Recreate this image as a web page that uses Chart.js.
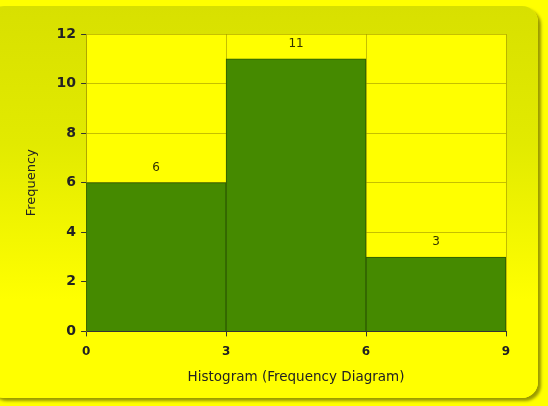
<!DOCTYPE html>
<html><head><meta charset="utf-8">
<script src="https://cdn.jsdelivr.net/npm/chart.js@4"></script>
<style>
html,body{margin:0;padding:0;background:#FFFF00;width:548px;height:406px;overflow:hidden;}
#panel{position:absolute;left:-12px;top:6px;width:550px;height:392px;border-radius:16px;
background:linear-gradient(to bottom,#D8E000 0%,#E2EA00 35%,#FFFF00 75%,#FFFF00 100%);
box-shadow:3px 3px 3px rgba(120,120,0,0.75);}
#wrap{position:absolute;left:0;top:0;width:548px;height:406px;}
</style></head>
<body>
<div id="panel"></div>
<div id="wrap"><canvas id="c" width="548" height="406"></canvas></div>
<script>
const binStarts = [0, 3, 6];
const binWidth = 3;
const frequencies = [6, 11, 3];
const xTicks = [0, 3, 6, 9];
const yTicks = [0, 2, 4, 6, 8, 10, 12];
const xTitle = 'Histogram (Frequency Diagram)';
const yTitle = 'Frequency';

const points = binStarts.map((s, i) => ({x: s + binWidth / 2, y: frequencies[i]}));
const FF = '"DejaVu Sans", sans-serif';

const plotBg = {
  id: 'plotBg',
  beforeDraw(chart) {
    const {ctx, chartArea: a} = chart;
    ctx.save();
    ctx.fillStyle = '#FFFF00';
    ctx.fillRect(a.left, a.top, a.right - a.left, a.bottom - a.top);
    ctx.restore();
  }
};
const labels = {
  id: 'labels',
  afterDatasetsDraw(chart) {
    const {ctx} = chart;
    const meta = chart.getDatasetMeta(0);
    ctx.save();
    ctx.font = '12px ' + FF;
    ctx.fillStyle = '#333300';
    ctx.textAlign = 'center';
    ctx.textBaseline = 'bottom';
    meta.data.forEach((el, i) => {
      ctx.fillText(String(frequencies[i]), el.x, el.y - 9);
    });
    ctx.restore();
  }
};

new Chart(document.getElementById('c'), {
  type: 'bar',
  data: {
    datasets: [{
      data: points,
      backgroundColor: '#458A00',
      borderColor: '#2E5A00',
      borderWidth: 1,
      barPercentage: 1,
      categoryPercentage: 1
    }]
  },
  options: {
    responsive: false,
    animation: false,
    layout: {padding: {left: 20, right: 42, top: 34, bottom: 16}},
    plugins: {legend: {display: false}, tooltip: {enabled: false}},
    scales: {
      x: {
        type: 'linear', min: 0, max: 9, offset: false,
        afterBuildTicks(s) { s.ticks = xTicks.map(v => ({value: v})); },
        grid: {color: 'rgba(160,150,0,0.6)', tickColor: '#333', tickLength: 5, offset: false},
        border: {color: '#333', width: 1},
        ticks: {color: '#222', font: {family: FF, size: 12, weight: 'bold'}, padding: 8, maxRotation: 0},
        title: {display: true, text: xTitle, color: '#222', font: {family: FF, size: 13.5}, padding: {top: 3, bottom: 4}}
      },
      y: {
        min: 0, max: 12,
        afterBuildTicks(s) { s.ticks = yTicks.map(v => ({value: v})); },
        grid: {color: 'rgba(160,150,0,0.6)', tickColor: '#333', tickLength: 5},
        border: {color: 'rgba(160,150,0,0.6)', width: 1},
        ticks: {color: '#222', font: {family: FF, size: 14, weight: 'bold'}, padding: 5},
        title: {display: true, text: yTitle, color: '#222', font: {family: FF, size: 13}, padding: {bottom: 12}}
      }
    }
  },
  plugins: [plotBg, labels]
});
</script>
</body></html>
